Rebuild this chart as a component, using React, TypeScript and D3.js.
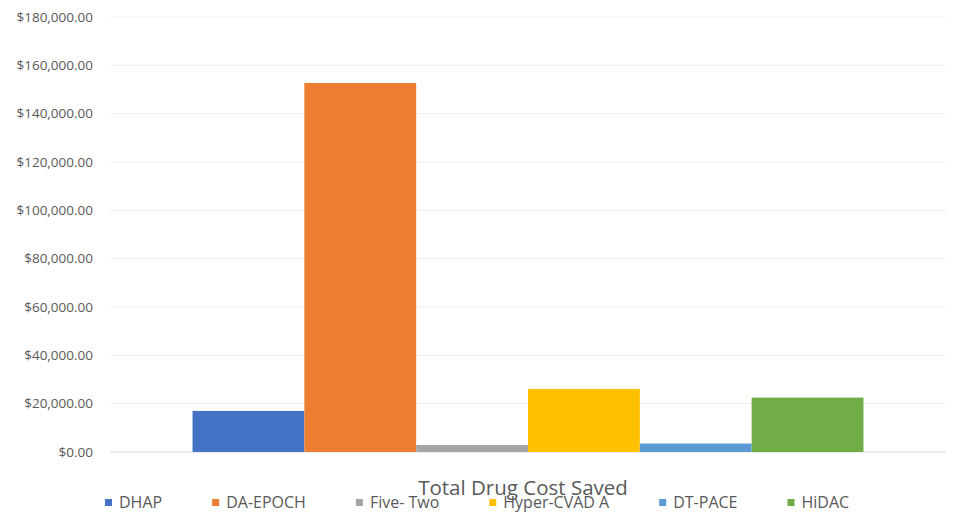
import React, { useEffect, useRef, useState } from "react";
import * as d3 from "d3";

const categories = ["DHAP", "DA-EPOCH", "Five- Two", "Hyper-CVAD A", "DT-PACE", "HiDAC"];
const values = [17000, 152700, 2900, 26100, 3500, 22500];
const colors = ["#4472C4", "#ED7D31", "#A5A5A5", "#FFC000", "#5B9BD5", "#70AD47"];
const yTicks = [0, 20000, 40000, 60000, 80000, 100000, 120000, 140000, 160000, 180000];
const title = "Total Drug Cost Saved";

const W = 954;
const H = 515;
const FONT = "'Open Sans', 'Noto Sans', sans-serif";

export default function App() {
  const x0 = 110, x1 = 946, yTop = 17, yBot = 452;
  const y = d3.scaleLinear().domain([0, 180000]).range([yBot, yTop]);
  const outer = d3.scaleBand<string>().domain(["Total"]).range([x0, x1]).paddingInner(0).paddingOuter(0.123);
  const inner = d3.scaleBand<string>().domain(categories).range([0, outer.bandwidth()]).padding(0);
  const fmt = (v: number) => "$" + d3.format(",.2f")(v);

  const textRefs = useRef<(SVGTextElement | null)[]>([]);
  const [widths, setWidths] = useState<number[]>(categories.map(() => 60));
  useEffect(() => {
    const w = textRefs.current.map((t) => (t ? t.getComputedTextLength() : 60));
    setWidths(w);
  }, []);

  const legendStart = 105;
  const sq = 7;
  const gapText = 7;
  const spacing = 50;
  const legendX: number[] = [];
  let cx = legendStart;
  categories.forEach((_, i) => {
    legendX.push(cx);
    cx += sq + gapText + widths[i] + spacing;
  });

  return (
    <svg width={W} height={H} style={{ position: "absolute", left: 0, top: 0, background: "#fff" }} fontFamily={FONT}>
      <rect x={0} y={0} width={W} height={H} fill="#fff" />
      {yTicks.map((t) => (
        <g key={t}>
          <line x1={x0} x2={x1} y1={y(t)} y2={y(t)} stroke={t === 0 ? "#d9d9d9" : "#eeeeee"} strokeWidth={1} />
          <text x={93} y={y(t)} dy="0.35em" textAnchor="end" fontSize={13.5} fill="#595959">
            {fmt(t)}
          </text>
        </g>
      ))}
      {categories.map((c, i) => (
        <rect
          key={c}
          x={(outer("Total") as number) + (inner(c) as number)}
          y={y(values[i])}
          width={inner.bandwidth()}
          height={y(0) - y(values[i])}
          fill={colors[i]}
        />
      ))}
      <text x={523} y={495} textAnchor="middle" fontSize={20.5} fill="#595959">
        {title}
      </text>
      {categories.map((c, i) => (
        <g key={c}>
          <rect x={legendX[i]} y={499} width={sq} height={sq} fill={colors[i]} />
          <text
            ref={(el) => { textRefs.current[i] = el; }}
            x={legendX[i] + sq + gapText}
            y={508}
            fontSize={16}
            fill="#595959"
          >
            {c}
          </text>
        </g>
      ))}
    </svg>
  );
}
